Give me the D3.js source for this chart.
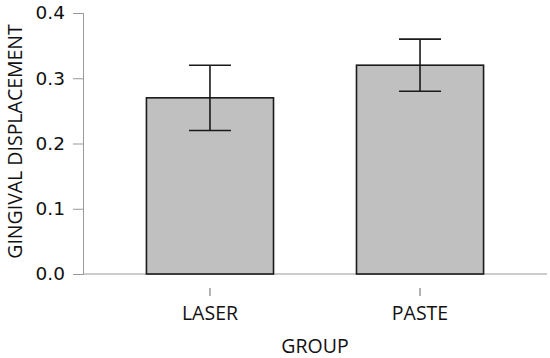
<!DOCTYPE html>
<html>
<head>
<meta charset="utf-8">
<script src="https://cdn.jsdelivr.net/npm/d3@7"></script>
<style>
  body { margin: 0; background: #fff; }
  svg { display: block; }
</style>
</head>
<body>
<svg id="svg" width="550" height="358"></svg>
<script>
const groups = ['LASER', 'PASTE']
const means = [0.27, 0.32]
const lower = [0.22, 0.28]
const upper = [0.32, 0.36]
const yTicks = [0, 0.1, 0.2, 0.3, 0.4]

const $svg = d3.select('#svg')
const labelFont = '"Open Sans", sans-serif'
const tickFont = '"DejaVu Sans", sans-serif'
const labelSize = 19.5

const margin = { left: 83, right: 3, top: 13, bottom: 84 }
const width = 550
const height = 358

const x = d3.scaleBand()
	.domain(groups)
	.range([margin.left, width - margin.right])
	.paddingInner(0.395)
	.paddingOuter(0.302)

const y = d3.scaleLinear()
	.domain([0, 0.4])
	.range([height - margin.bottom, margin.top])

const data = groups.map((g, i) => ({ g, mean: means[i], lo: lower[i], hi: upper[i] }))

// baseline
$svg.append('line')
	.attr('x1', margin.left).attr('x2', width - margin.right)
	.attr('y1', y(0)).attr('y2', y(0))
	.attr('stroke', '#999').attr('stroke-width', 1)

// y axis
const yAxis = $svg.append('g')
	.attr('transform', `translate(${margin.left},0)`)
	.call(d3.axisLeft(y).tickValues(yTicks).tickFormat(d3.format('.1f')).tickSize(10).tickPadding(8))
yAxis.select('.domain').attr('stroke', '#999')
yAxis.selectAll('.tick line').attr('stroke', '#999')
yAxis.selectAll('.tick text')
	.attr('font-family', tickFont).attr('font-size', 18.5).attr('fill', '#111')

// bars
$svg.selectAll('rect.bar')
	.data(data)
	.join('rect')
	.attr('class', 'bar')
	.attr('x', d => x(d.g))
	.attr('width', x.bandwidth())
	.attr('y', d => y(d.mean))
	.attr('height', d => y(0) - y(d.mean))
	.attr('fill', '#c0c0c0')
	.attr('stroke', '#1a1a1a')
	.attr('stroke-width', 1.6)

// error bars
const capW = 42
const err = $svg.selectAll('g.err')
	.data(data)
	.join('g')
	.attr('class', 'err')
	.attr('stroke', '#1a1a1a')
	.attr('stroke-width', 1.6)
const cx = d => x(d.g) + x.bandwidth() / 2
err.append('line')
	.attr('x1', cx).attr('x2', cx)
	.attr('y1', d => y(d.hi)).attr('y2', d => y(d.lo))
err.append('line')
	.attr('x1', d => cx(d) - capW / 2).attr('x2', d => cx(d) + capW / 2)
	.attr('y1', d => y(d.hi)).attr('y2', d => y(d.hi))
err.append('line')
	.attr('x1', d => cx(d) - capW / 2).attr('x2', d => cx(d) + capW / 2)
	.attr('y1', d => y(d.lo)).attr('y2', d => y(d.lo))

// x axis (ticks only)
const xAxis = $svg.append('g')
	.attr('transform', `translate(0,${y(0) + 14})`)
	.call(d3.axisBottom(x).tickSize(8).tickPadding(6))
xAxis.select('.domain').remove()
xAxis.selectAll('.tick line').attr('stroke', '#666')
xAxis.selectAll('.tick text')
	.attr('font-family', labelFont).attr('font-size', labelSize).attr('fill', '#111')
	.attr('dy', null).attr('y', 32)

// axis titles
$svg.append('text')
	.attr('x', 315).attr('y', 353)
	.attr('text-anchor', 'middle')
	.attr('font-family', labelFont).attr('font-size', labelSize).attr('fill', '#111')
	.text('GROUP')

$svg.append('text')
	.attr('transform', `translate(22,${(25 + 258) / 2}) rotate(-90)`)
	.attr('text-anchor', 'middle')
	.attr('font-family', labelFont).attr('font-size', 19.5).attr('fill', '#111')
	.text('GINGIVAL DISPLACEMENT')
</script>
</body>
</html>
